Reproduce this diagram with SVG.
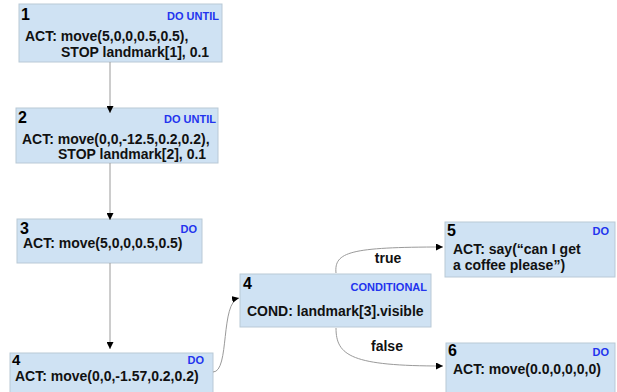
<svg xmlns="http://www.w3.org/2000/svg" width="617" height="392" viewBox="0 0 617 392">
<defs>
<marker id="ah" viewBox="0 0 10 10" refX="10" refY="5" markerWidth="7" markerHeight="7" markerUnits="userSpaceOnUse" orient="auto">
<path d="M0,0 L10,5 L0,10 z" fill="#000"/>
</marker>
<style>
.box{fill:#cfe2f3;stroke:#b9c9d6;stroke-width:1}
.num{font-family:"Liberation Sans",Arial,sans-serif;font-weight:bold;font-size:16px;fill:#000}
.tag{font-family:"Liberation Sans",Arial,sans-serif;font-weight:bold;font-size:11px;fill:#2233ee;text-anchor:end}
.txt{font-family:"Liberation Sans",Arial,sans-serif;font-weight:bold;font-size:14px;fill:#111}
.lbl{font-family:"Liberation Sans",Arial,sans-serif;font-weight:bold;font-size:14px;fill:#111;text-anchor:middle}
.edge{fill:none;stroke:#9a9a9a;stroke-width:1;marker-end:url(#ah)}
</style>
</defs>
<rect width="617" height="392" fill="#fff"/>
<g id="node1">
<rect class="box" x="19" y="4" width="203" height="58"/>
<text class="num" x="21" y="20">1</text>
<text class="tag" x="219" y="20">DO UNTIL</text>
<text class="txt" x="25" y="41">ACT: move(5,0,0,0.5,0.5),</text>
<text class="txt" x="61" y="57">STOP landmark[1], 0.1</text>
</g>
<g id="node2">
<rect class="box" x="16" y="108" width="202" height="55"/>
<text class="num" x="18" y="123">2</text>
<text class="tag" x="216" y="123">DO UNTIL</text>
<text class="txt" x="22" y="144">ACT: move(0,0,-12.5,0.2,0.2),</text>
<text class="txt" x="58" y="159">STOP landmark[2], 0.1</text>
</g>
<g id="node3">
<rect class="box" x="17" y="219" width="185" height="44"/>
<text class="num" x="20" y="234">3</text>
<text class="tag" x="197" y="233">DO</text>
<text class="txt" x="23" y="248">ACT: move(5,0,0,0.5,0.5)</text>
</g>
<g id="node4a">
<rect class="box" x="10" y="353" width="203" height="45"/>
<text class="num" x="12" y="365" style="font-size:15px">4</text>
<text class="tag" x="204" y="364">DO</text>
<text class="txt" x="15" y="381">ACT: move(0,0,-1.57,0.2,0.2)</text>
</g>
<g id="node4b">
<rect class="box" x="240" y="274" width="191" height="53"/>
<text class="num" x="243" y="289">4</text>
<text class="tag" x="427" y="291">CONDITIONAL</text>
<text class="txt" x="247" y="316">COND: landmark[3].visible</text>
</g>
<g id="node5">
<rect class="box" x="445" y="222" width="170" height="55"/>
<text class="num" x="447" y="236">5</text>
<text class="tag" x="609" y="235">DO</text>
<text class="txt" x="453" y="254">ACT: say(“can I get</text>
<text class="txt" x="453" y="270">a coffee please”)</text>
</g>
<g id="node6">
<rect class="box" x="446" y="343" width="169" height="55"/>
<text class="num" x="448" y="356">6</text>
<text class="tag" x="609" y="356">DO</text>
<text class="txt" x="453" y="374">ACT: move(0.0,0,0,0,0)</text>
</g>
<g id="connectors">
<path class="edge" d="M110,62 L110,113"/>
<path class="edge" d="M110,163 L110,220"/>
<path class="edge" d="M110,263 L110,349"/>
<path class="edge" d="M213,372 C230,372 220,302 239,298"/>
<path class="edge" d="M336,273 C334,252 350,247 443,247"/>
<path class="edge" d="M336,328 C336,356 352,366 443,366"/>
<text class="lbl" x="388" y="263">true</text>
<text class="lbl" x="387" y="351">false</text>
</g>
</svg>
